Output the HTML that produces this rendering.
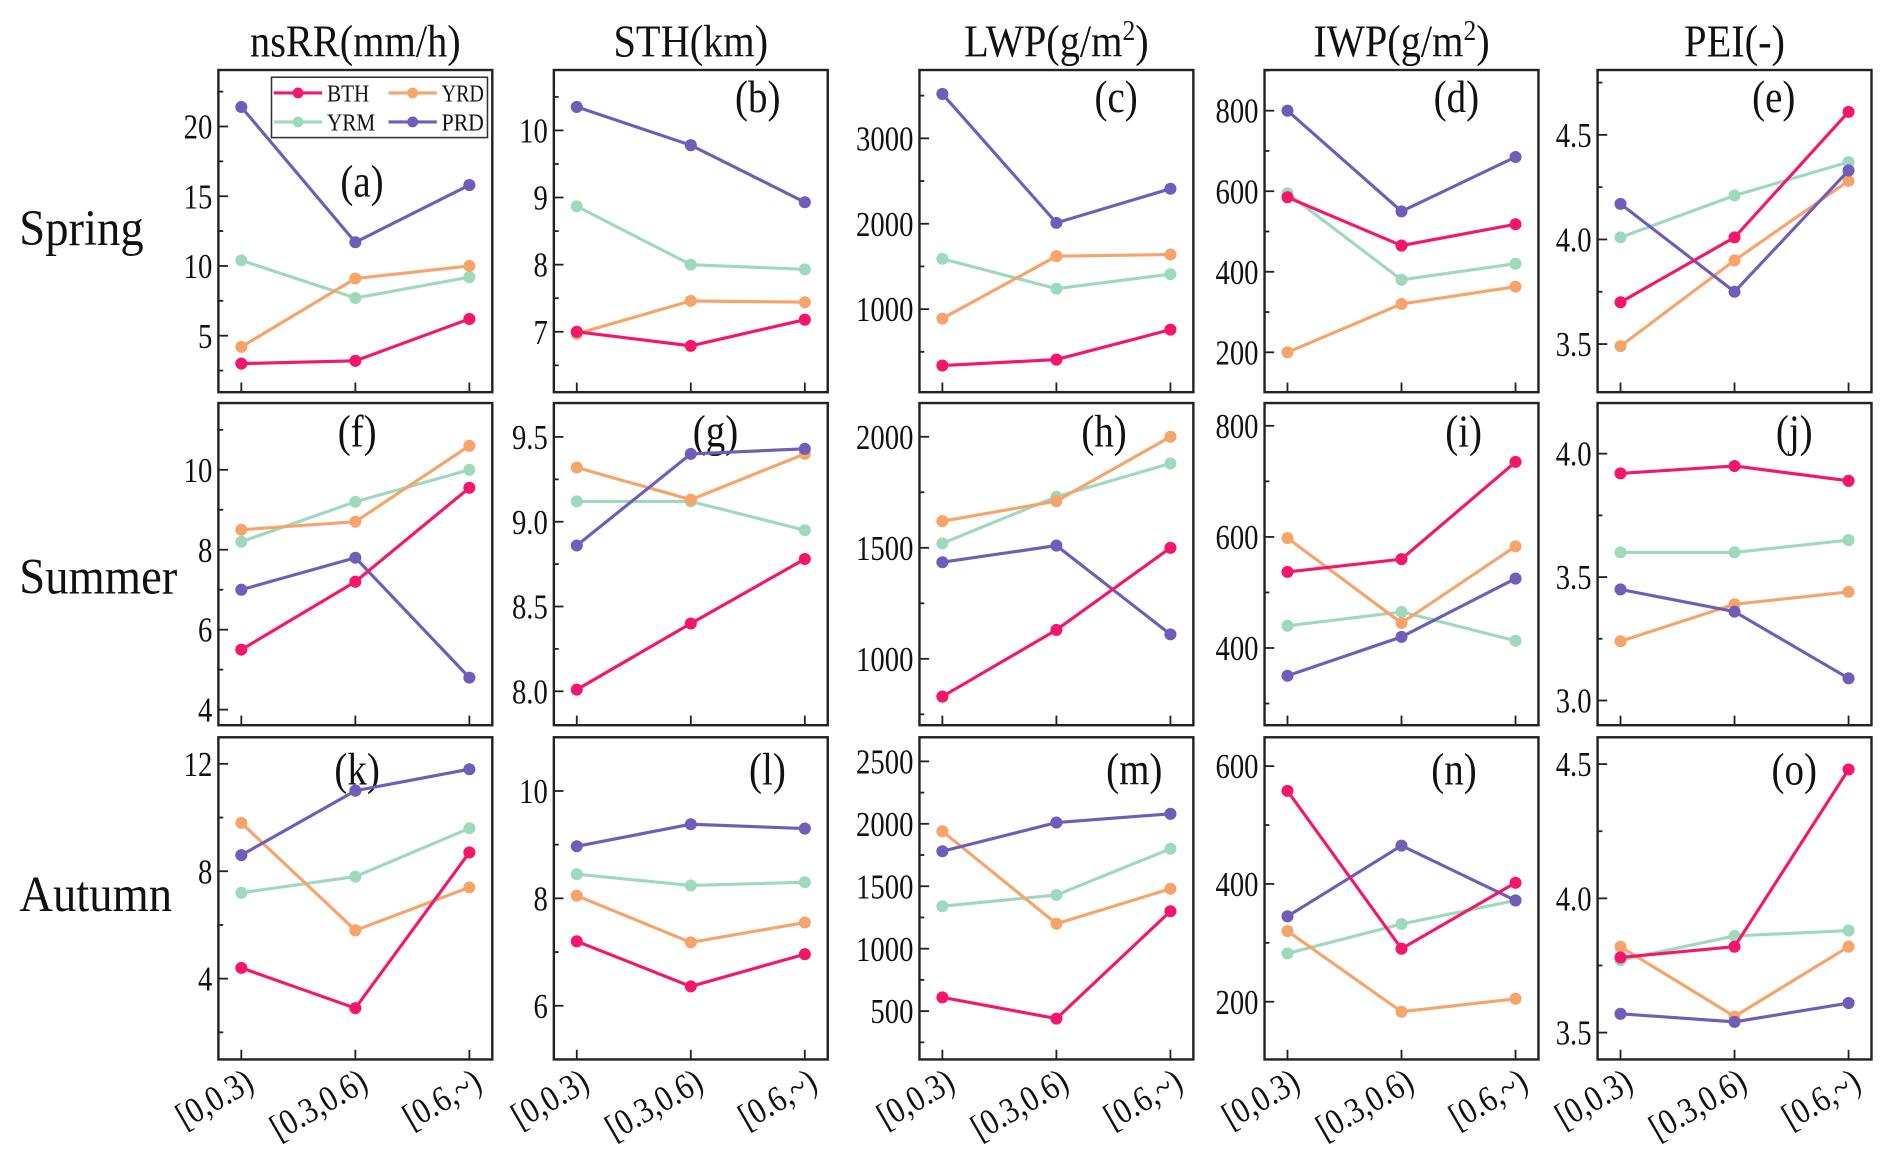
<!DOCTYPE html>
<html><head><meta charset="utf-8"><style>
html,body{margin:0;padding:0;background:#fff;}
svg{display:block;}
text{font-family:"Liberation Serif",serif;fill:#111;}
</style></head><body>
<svg id="chart" width="1892" height="1156" viewBox="0 0 1568 958" xmlns="http://www.w3.org/2000/svg"></svg>
<script>
// ---- data ----
const categories = ["[0,0.3)", "[0.3,0.6)", "[0.6,~)"];
const seriesNames = ["BTH", "YRD", "YRM", "PRD"];
const colTitles = ["nsRR(mm/h)", "STH(km)", "LWP(g/m²)", "IWP(g/m²)", "PEI(-)"];
const rowTitles = ["Spring", "Summer", "Autumn"];
const panelLabels = ["(a)","(b)","(c)","(d)","(e)","(f)","(g)","(h)","(i)","(j)","(k)","(l)","(m)","(n)","(o)"];
// values per panel (a..o), each [cat1,cat2,cat3]
const bthVals = [[3.0,3.2,6.2],[7.0,6.79,7.18],[340,410,760],[585,465,518],[3.70,4.01,4.61],
                 [5.5,7.2,9.55],[8.01,8.40,8.78],[830,1130,1500],[537,560,735],[3.92,3.95,3.89],
                 [4.4,2.9,8.7],[7.20,6.36,6.96],[610,440,1300],[558,290,402],[3.78,3.82,4.48]];
const yrdVals = [[4.2,9.1,10.0],[6.97,7.46,7.44],[890,1620,1640],[200,320,363],[3.49,3.90,4.28],
                 [8.5,8.7,10.6],[9.32,9.13,9.40],[1620,1710,2000],[598,445,583],[3.24,3.39,3.44],
                 [9.8,5.8,7.4],[8.05,7.18,7.55],[1940,1200,1480],[320,183,205],[3.82,3.56,3.82]];
const yrmVals = [[10.4,7.7,9.2],[8.87,8.0,7.93],[1590,1240,1410],[595,380,420],[4.01,4.21,4.37],
                 [8.2,9.2,10.0],[9.12,9.12,8.95],[1520,1730,1880],[440,465,413],[3.60,3.60,3.65],
                 [7.2,7.8,9.6],[8.45,8.24,8.30],[1340,1430,1800],[282,332,372],[3.77,3.86,3.88]];
const prdVals = [[21.4,11.7,15.8],[10.35,9.78,8.93],[3520,2010,2410],[800,550,685],[4.17,3.75,4.33],
                 [7.0,7.8,4.8],[8.86,9.40,9.43],[1435,1510,1110],[350,420,525],[3.45,3.36,3.09],
                 [8.6,11.0,11.8],[8.97,9.38,9.30],[1780,2010,2080],[345,465,372],[3.57,3.54,3.61]];
// y-axis domains [min,max]
const yDomains = [[0.95,24.05],[6.1,10.9],[28,3800],[101,901],[3.27,4.81],
                  [3.61,11.67],[7.8,9.7],[701,2152],[261,841],[2.9,4.205],
                  [0.99,12.99],[5.0,11.0],[113,2693],[102,649],[3.40,4.60]];
const yMajorTicks = [[5,10,15,20],[7,8,9,10],[1000,2000,3000],[200,400,600,800],[3.5,4.0,4.5],
                     [4,6,8,10],[8.0,8.5,9.0,9.5],[1000,1500,2000],[400,600,800],[3.0,3.5,4.0],
                     [4,8,12],[6,8,10],[500,1000,1500,2000,2500],[200,400,600],[3.5,4.0,4.5]];
const yTickLabels = [["5","10","15","20"],["7","8","9","10"],["1000","2000","3000"],["200","400","600","800"],["3.5","4.0","4.5"],
                     ["4","6","8","10"],["8.0","8.5","9.0","9.5"],["1000","1500","2000"],["400","600","800"],["3.0","3.5","4.0"],
                     ["4","8","12"],["6","8","10"],["500","1000","1500","2000","2500"],["200","400","600"],["3.5","4.0","4.5"]];
const yMinorStep = [2.5,0.5,500,100,0.25, 1,0.25,250,100,0.25, 2,1,250,100,0.25];

// ---- layout ----
const colors = {BTH:"#f5156b", YRD:"#f7a46b", YRM:"#9fd9bd", PRD:"#6f5db9"};
const colLeft = [181,459,762,1048,1324];
const panelW = 227;
const rowTop = [58,334,611];
const panelH = 267;
const labelPos = [[300,150],[628,80],[925,80],[1207,80],[1470,80],
                  [296,357],[593,357],[915,357],[1213,357],[1487,357],
                  [296,637],[636,637],[940,637],[1205,637],[1487,637]];
const svg = document.getElementById('chart');
const NS = "http://www.w3.org/2000/svg";
function mk(tag, attrs, parent){ const e=document.createElementNS(NS,tag); for(const k in attrs) e.setAttribute(k,attrs[k]); (parent||svg).appendChild(e); return e; }
function place(el,x,y,sx,rot){ el.setAttribute('x',0); el.setAttribute('y',0); el.setAttribute('transform',`translate(${x} ${y})`+(rot?` rotate(${rot})`:'')+` scale(${sx} 1)`); }

colTitles.forEach((t,c)=>{
  const tx = mk('text',{'font-size':38, 'text-anchor':'middle'});
  place(tx,colLeft[c]+panelW/2,47,0.88);
  
  
  if(t.indexOf('²')>=0){
    const base=t.split('²');
    tx.appendChild(document.createTextNode(base[0]));
    const ts=mk('tspan',{dy:-14,'font-size':24},tx); ts.textContent='2';
    const ts2=mk('tspan',{dy:14},tx); ts2.textContent=base[1];
  } else tx.textContent=t;
});
rowTitles.forEach((t,r)=>{
  const tx = mk('text',{'font-size':42});
  place(tx,16,[203,492,755][r],0.92);
  
  
  tx.textContent=t;
});

for(let p=0;p<15;p++){
  const r=Math.floor(p/5), c=p%5;
  const x0=colLeft[c], y0=rowTop[r];
  const g=mk('g',{});
  
  
  const [dmin,dmax]=yDomains[p];
  const yS=v=> y0+panelH-(v-dmin)/(dmax-dmin)*panelH;
  const xS=i=> x0+19+i*94.5;
  const fr=mk('rect',{x:x0,y:y0,width:panelW,height:panelH,fill:'none',stroke:'#222','stroke-width':2},g);
  
  
  const step=yMinorStep[p];
  for(let v=Math.ceil(dmin/step)*step; v<=dmax+1e-9; v+=step){
    const isMaj = yMajorTicks[p].some(m=>Math.abs(m-v)<1e-6);
    const t=mk('line',{x1:x0,x2:x0+(isMaj?8:4),y1:yS(v),y2:yS(v),stroke:'#222','stroke-width':1.5},g);
    
    
  }
  yMajorTicks[p].forEach((v,i)=>{
    const t=mk('text',{'font-size':29,'text-anchor':'end'},g);
    place(t,x0-5,yS(v)+10,0.82);
    
    
    t.textContent=yTickLabels[p][i];
  });
  categories.forEach((cat,i)=>{
    const t=mk('line',{x1:xS(i),x2:xS(i),y1:y0+panelH,y2:y0+panelH-8,stroke:'#222','stroke-width':1.5},g);
    
    
    if(r===2){
      const tl=mk('text',{'font-size':30,'text-anchor':'end'},g);
      place(tl,xS(i)+12,y0+panelH+24,0.85,-30);
      
      
      tl.textContent=cat;
    }
  });
  const pl=mk('text',{'font-size':38,'text-anchor':'middle'},g);
  place(pl,labelPos[p][0],labelPos[p][1]+13,0.85);
  
  
  pl.textContent=panelLabels[p];
  const allVals={BTH:bthVals,YRD:yrdVals,YRM:yrmVals,PRD:prdVals};
  ["YRM","YRD","PRD","BTH"].forEach(s=>{
    const vals=allVals[s][p];
    const pts=vals.map((v,i)=>xS(i)+','+yS(v)).join(' ');
    const pl2=mk('polyline',{points:pts,fill:'none',stroke:colors[s],'stroke-width':2.6},g);
    
    
    vals.forEach((v,i)=>{
      const cc=mk('circle',{cx:xS(i),cy:yS(v),r:5,fill:colors[s]},g);
      
      
    });
  });
}
const lg=mk('g',{});


const lb=mk('rect',{x:225,y:64,width:179,height:50,fill:'#fff',stroke:'#333','stroke-width':1.3},lg);


const legPos=[[227,77],[322,77],[227,101],[322,101]];
["BTH","YRD","YRM","PRD"].forEach((s,i)=>{
  const [lx,ly]=legPos[i];
  const e=mk('g',{},lg);
  
  
  mk('line',{x1:lx,x2:lx+40,y1:ly,y2:ly,stroke:colors[s],'stroke-width':2.6},e);
  mk('circle',{cx:lx+20,cy:ly,r:4.5,fill:colors[s]},e);
  const t=mk('text',{x:lx+44,y:ly+7,'font-size':20,textLength:s==="YRM"?40:35,lengthAdjust:'spacingAndGlyphs'},e);
  t.textContent=s;
});
</script>
</body></html>
